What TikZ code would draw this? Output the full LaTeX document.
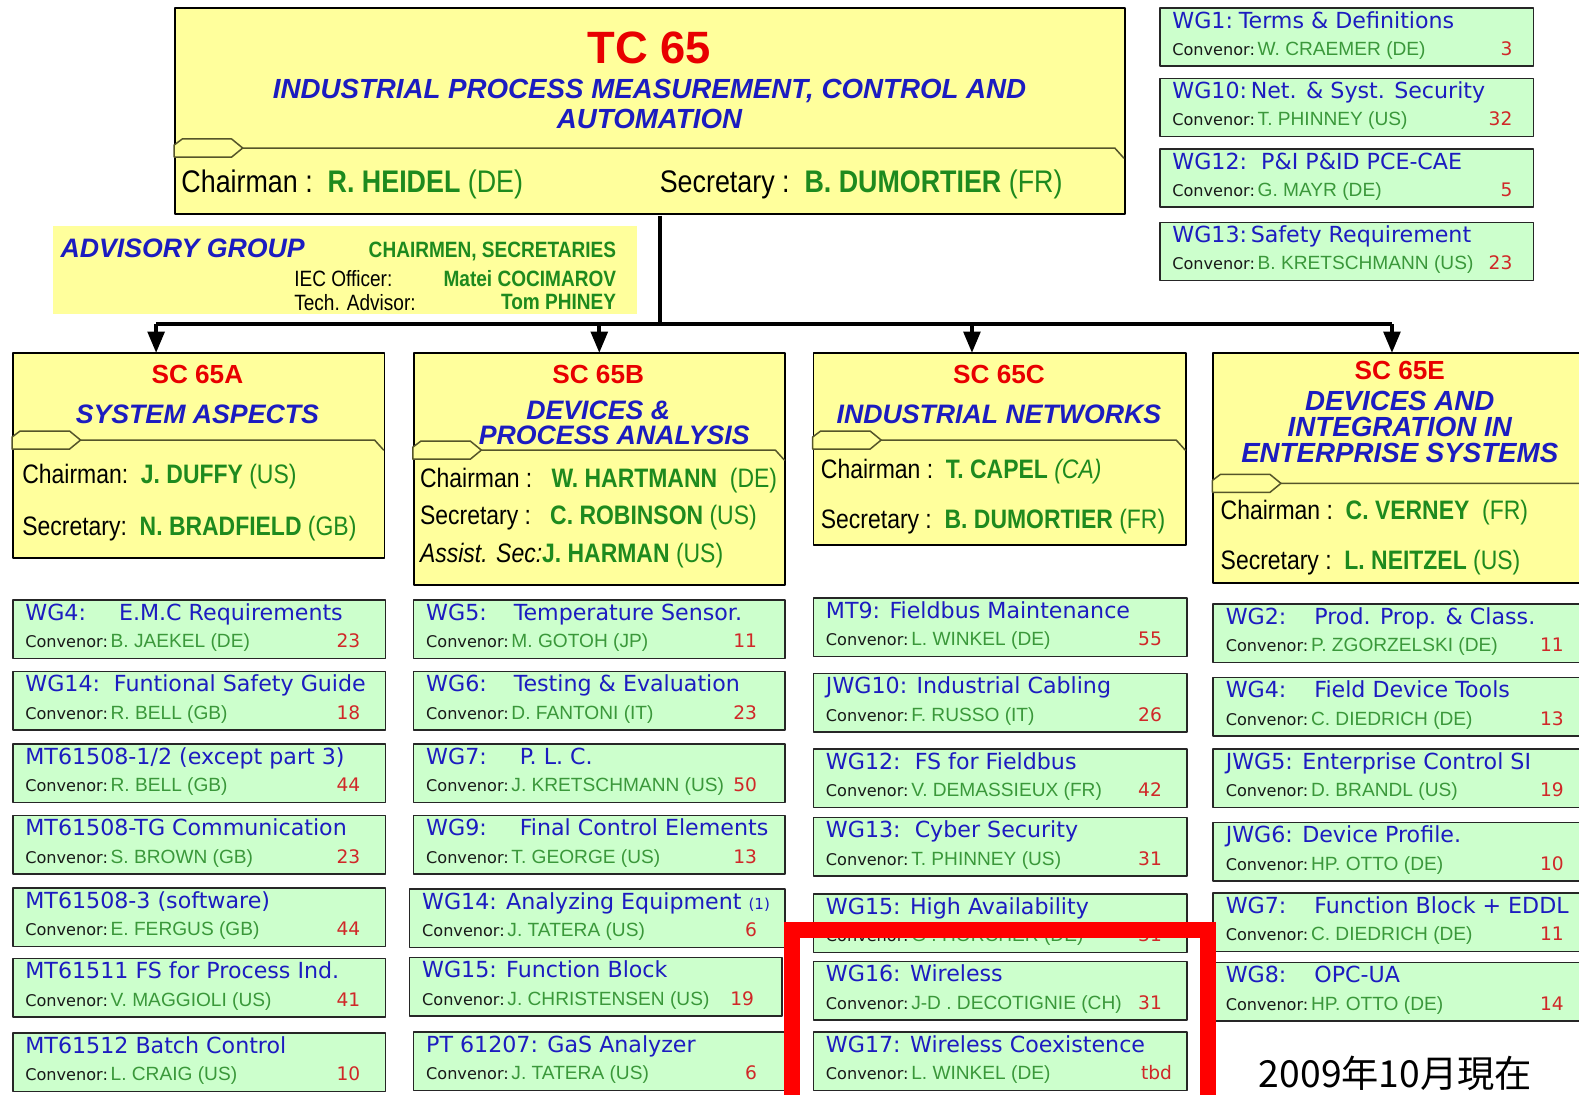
\documentclass[tikz,border=0pt]{standalone}
\usepackage{fontspec}
\setmainfont{Liberation Sans}
\newfontfamily\arialn[FakeStretch=0.86]{Liberation Sans}
\newfontfamily\wgfont{DejaVu Sans}
\newfontfamily\cjk{Noto Sans CJK JP}
\usetikzlibrary{arrows}

\definecolor{tcyellow}{HTML}{FFFF9C}
\definecolor{wggreen}{HTML}{CCFFCC}
\definecolor{tcblue}{HTML}{1C1CC0}
\definecolor{tcred}{HTML}{E80000}
\definecolor{namegreen}{HTML}{1E8A1E}
\definecolor{convgreen}{HTML}{3A983A}
\definecolor{numred}{HTML}{D02828}
\definecolor{tabdark}{HTML}{55552A}

\tikzset{
  tcbox/.style={draw=black, line width=2pt, fill=tcyellow, anchor=north west, inner sep=0pt},
  scbox/.style={draw=black, line width=1.8pt, fill=tcyellow, anchor=north west, inner sep=0pt},
  advbox/.style={fill=tcyellow, anchor=north west, inner sep=0pt},
  wg/.style={draw=black!85, line width=1.5pt, fill=wggreen, anchor=north west, inner sep=0pt, minimum height=58pt},
  tabline/.style={draw=tabdark, line width=1.5pt, fill=tcyellow},
  trunk/.style={line width=4pt, line cap=butt},
  sccode/.style={inner sep=0pt, text=tcred, font=\bfseries\fontsize{26}{26}\selectfont},
  scname/.style={inner sep=0pt, text=tcblue, font=\bfseries\itshape\fontsize{26.5}{26.5}\selectfont},
  scrole/.style={inner sep=0pt, anchor=west, font=\arialn\fontsize{26.5}{26.5}\selectfont},
  advgreen/.style={inner sep=0pt, anchor=east, text=namegreen, font=\arialn\bfseries\fontsize{22}{22}\selectfont},
  advrole/.style={inner sep=0pt, anchor=west, font=\arialn\fontsize{22}{22}\selectfont},
  wgtitle/.style={inner sep=0pt, anchor=base west, text=tcblue, font=\wgfont\fontsize{22}{22}\selectfont},
  wgconv/.style={inner sep=0pt, anchor=base west, text=black!90, font=\wgfont\fontsize{16}{16}\selectfont},
  wgnum/.style={inner sep=0pt, anchor=base east, text=numred, font=\wgfont\fontsize{18.5}{18.5}\selectfont}
}

\newcommand{\who}[1]{{\bfseries\color{namegreen}#1}}
\newcommand{\ctry}[1]{{\color{namegreen}#1}}
\newcommand{\numinset}{24}
% name, left, top, width, title, convenor, number
\newcommand{\wgbox}[7]{%
  \node[wg, minimum width=#4] (#1) at (#2,#3) {};
  \node[wgtitle] (#1-t) at (#2+13,#3+21) {#5};
  \node[wgconv] (#1-c) at (#2+13,#3+48) {Convenor:\,{\rmfamily\fontsize{19}{19}\selectfont\color{convgreen}#6}};
  \node[wgnum] (#1-n) at (#2+#4-\numinset,#3+48) {#7};
}
% left, right, y of the tab line
\newcommand{\sctab}[3]{%
  \draw[tabline] (#1,#3+9) -- (#1,#3-3) -- (#1+8,#3-9) -- (#1+57,#3-9) -- (#1+68,#3) -- (#1+57,#3+9) -- cycle;
  \draw[tabline, fill=none] (#1+68,#3) -- (#2-9,#3) -- (#2,#3+10);
}

\begin{document}
\begin{tikzpicture}[line cap=round,line join=round,>=triangle 45,x=1pt,y=-1pt,scale=1.007,transform shape]
\useasboundingbox (0,0) rectangle (1568,1086.4);
\clip (0,0) rectangle (1568,1086.4);

% TC 65
\node[tcbox, minimum width=943, minimum height=205] (tc) at (173,7) {};
\node[inner sep=0pt, text=tcred, font=\bfseries\fontsize{45}{45}\selectfont] (tc-code) at (645,48) {TC 65};
\node[scname, font=\bfseries\itshape\fontsize{27.5}{27.5}\selectfont] (tc-name1) at (645,90) {INDUSTRIAL PROCESS MEASUREMENT, CONTROL AND};
\node[scname, font=\bfseries\itshape\fontsize{27.5}{27.5}\selectfont] (tc-name2) at (645,118) {AUTOMATION};
\sctab{173}{1116}{147}
\node[scrole, font=\arialn\fontsize{31}{31}\selectfont] (tc-chair) at (180,183) {Chairman :\ \ \who{R. HEIDEL} \ctry{(DE)}};
\node[scrole, font=\arialn\fontsize{31}{31}\selectfont] (tc-secr) at (655,183) {Secretary :\ \ \who{B. DUMORTIER} \ctry{(FR)}};

% advisory group
\node[advbox, minimum width=580, minimum height=88] (adv) at (52,224) {};
\node[scname, anchor=west] (adv-t) at (60,247) {ADVISORY GROUP};
\node[advgreen] (adv-cs) at (612,250) {CHAIRMEN, SECRETARIES};
\node[advrole] (adv-iec) at (292,277) {IEC Officer:};
\node[advgreen] (adv-iecn) at (612,277) {Matei COCIMAROV};
\node[advrole] (adv-tech) at (292,300) {Tech. Advisor:};
\node[advgreen] (adv-techn) at (612,300) {Tom PHINEY};

% sub committees
\node[scbox, minimum width=369, minimum height=203] (sca) at (12,350) {};
\node[sccode] (sca-code) at (196,372) {SC 65A};
\node[scname] (sca-name) at (196,411) {SYSTEM ASPECTS};
\sctab{12}{381}{437}
\node[scrole] (sca-chair) at (22,473) {Chairman:\ \ \who{J. DUFFY} \ctry{(US)}};
\node[scrole] (sca-secr) at (22,525) {Secretary:\ \ \who{N. BRADFIELD} \ctry{(GB)}};

\node[scbox, minimum width=369, minimum height=230] (scb) at (410,350) {};
\node[sccode] (scb-code) at (594,372) {SC 65B};
\node[scname] (scb-name1) at (594,407) {DEVICES \&};
\node[scname] (scb-name2) at (610,432) {PROCESS ANALYSIS};
\sctab{410}{779}{447}
\node[scrole] (scb-chair) at (417,477) {Chairman :\ \ \ \who{W. HARTMANN}\ \ \ctry{(DE)}};
\node[scrole] (scb-secr) at (417,514) {Secretary :\ \ \ \who{C. ROBINSON} \ctry{(US)}};
\node[scrole] (scb-asst) at (417,552) {\itshape Assist. Sec:\upshape\who{J. HARMAN} \ctry{(US)}};

\node[scbox, minimum width=370, minimum height=190] (scc) at (807,350) {};
\node[sccode] (scc-code) at (992,372) {SC 65C};
\node[scname] (scc-name) at (992,411) {INDUSTRIAL NETWORKS};
\sctab{807}{1177}{437}
\node[scrole] (scc-chair) at (815,468) {Chairman :\ \ \who{T. CAPEL} \ctry{\itshape(CA)}};
\node[scrole] (scc-secr) at (815,518) {Secretary :\ \ \who{B. DUMORTIER} \ctry{(FR)}};

\node[scbox, minimum width=390, minimum height=228] (sce) at (1204,350) {};
\node[sccode] (sce-code) at (1390,368) {SC 65E};
\node[scname, font=\bfseries\itshape\fontsize{27.5}{27.5}\selectfont] (sce-name1) at (1390,398) {DEVICES AND};
\node[scname, font=\bfseries\itshape\fontsize{27.5}{27.5}\selectfont] (sce-name2) at (1390,424) {INTEGRATION IN};
\node[scname, font=\bfseries\itshape\fontsize{27.5}{27.5}\selectfont] (sce-name3) at (1390,450) {ENTERPRISE SYSTEMS};
\sctab{1204}{1594}{480}
\node[scrole] (sce-chair) at (1212,509) {Chairman :\ \ \who{C. VERNEY}\ \ \ctry{(FR)}};
\node[scrole] (sce-secr) at (1212,559) {Secretary :\ \ \who{L. NEITZEL} \ctry{(US)}};

% tree
\coordinate (hub) at (655,322);
\coordinate (ja) at (155,322);
\coordinate (jb) at (595,322);
\coordinate (jc) at (965,322);
\coordinate (je) at (1382,322);
\draw[trunk] (tc.south -| hub) -- (hub);
\draw[trunk] (ja) -- (je);
\foreach \j/\s in {ja/sca, jb/scb, jc/scc, je/sce}
  \draw[trunk,->] (\j) -- (\j |- \s.north);

% WG1 .. WG13
\renewcommand{\numinset}{20}
\wgbox{wga}{1151}{7}{371}{\makebox[66pt][l]{WG1:}Terms \& Definitions}{W. CRAEMER (DE)}{3}
\wgbox{wgb}{1151}{77}{371}{WG10:\,Net. \& Syst. Security}{T. PHINNEY (US)}{32}
\wgbox{wgc}{1151}{147}{371}{WG12:\ \ P\&I P\&ID PCE-CAE}{G. MAYR (DE)}{5}
\wgbox{wgd}{1151}{220}{371}{WG13:\,Safety Requirement}{B. KRETSCHMANN (US)}{23}

% SC 65A
\renewcommand{\numinset}{24}
\wgbox{a1}{12}{595}{370}{\makebox[93pt][l]{WG4:}E.M.C Requirements}{B. JAEKEL (DE)}{23}
\wgbox{a2}{12}{666}{370}{\makebox[88pt][l]{WG14:}Funtional Safety Guide}{R. BELL (GB)}{18}
\wgbox{a3}{12}{738}{370}{MT61508-1/2 (except part 3)}{R. BELL (GB)}{44}
\wgbox{a4}{12}{809}{370}{MT61508-TG Communication}{S. BROWN (GB)}{23}
\wgbox{a5}{12}{881}{370}{MT61508-3 (software)}{E. FERGUS (GB)}{44}
\wgbox{a6}{12}{951}{370}{MT61511 FS for Process Ind.}{V. MAGGIOLI (US)}{41}
\wgbox{a7}{12}{1025}{370}{MT61512 Batch Control}{L. CRAIG (US)}{10}

% SC 65B
\renewcommand{\numinset}{27}
\wgbox{b1}{410}{595}{369}{\makebox[87pt][l]{WG5:}Temperature Sensor.}{M. GOTOH (JP)}{11}
\wgbox{b2}{410}{666}{369}{\makebox[87pt][l]{WG6:}Testing \& Evaluation}{D. FANTONI (IT)}{23}
\wgbox{b3}{410}{738}{369}{\makebox[93pt][l]{WG7:}P. L. C.}{J. KRETSCHMANN (US)}{50}
\wgbox{b4}{410}{809}{369}{\makebox[93pt][l]{WG9:}Final Control Elements}{T. GEORGE (US)}{13}
\wgbox{b5}{406}{882}{373}{WG14: Analyzing Equipment {\fontsize{15}{15}\selectfont(1)}}{J. TATERA (US)}{6}
\wgbox{b6}{406}{950}{370}{WG15: Function Block}{J. CHRISTENSEN (US)}{19}
\wgbox{b7}{410}{1024}{369}{PT 61207: GaS Analyzer}{J. TATERA (US)}{6}

% SC 65C
\renewcommand{\numinset}{24}
\wgbox{c1}{807}{593}{371}{MT9: Fieldbus Maintenance}{L. WINKEL (DE)}{55}
\wgbox{c2}{807}{668}{371}{JWG10: Industrial Cabling}{F. RUSSO (IT)}{26}
\wgbox{c3}{807}{743}{371}{WG12:\ \ FS for Fieldbus}{V. DEMASSIEUX (FR)}{42}
\wgbox{c4}{807}{811}{371}{WG13:\ \ Cyber Security}{T. PHINNEY (US)}{31}
\wgbox{c5}{807}{887}{371}{WG15: High Availability}{G . HORCHER (DE)}{31}
\wgbox{c6}{807}{954}{371}{WG16: Wireless}{J-D . DECOTIGNIE (CH)}{31}
\renewcommand{\numinset}{14}
\wgbox{c7}{807}{1024}{371}{WG17: Wireless Coexistence}{L. WINKEL (DE)}{tbd}

% SC 65E
\renewcommand{\numinset}{41}
\wgbox{e1}{1204}{599}{390}{\makebox[88pt][l]{WG2:}Prod. Prop. \& Class.}{P. ZGORZELSKI (DE)}{11}
\wgbox{e2}{1204}{672}{390}{\makebox[88pt][l]{WG4:}Field Device Tools}{C. DIEDRICH (DE)}{13}
\wgbox{e3}{1204}{743}{390}{JWG5: Enterprise Control SI}{D. BRANDL (US)}{19}
\wgbox{e4}{1204}{816}{390}{JWG6: Device Profile.}{HP. OTTO (DE)}{10}
\wgbox{e5}{1204}{886}{390}{\makebox[88pt][l]{WG7:}Function Block + EDDL}{C. DIEDRICH (DE)}{11}
\wgbox{e6}{1204}{955}{390}{\makebox[88pt][l]{WG8:}OPC-UA}{HP. OTTO (DE)}{14}

% highlight frame
\draw[line width=16pt, color=red, line cap=butt, line join=miter] (786.5,1100) -- (786.5,923.5) -- (1199.6,923.5) -- (1199.6,1100);

\node[inner sep=0pt, anchor=base west, font=\cjk\fontsize{37}{37}\selectfont] (date) at (1250,1080) {2009年10月現在};
\end{tikzpicture}
\end{document}
